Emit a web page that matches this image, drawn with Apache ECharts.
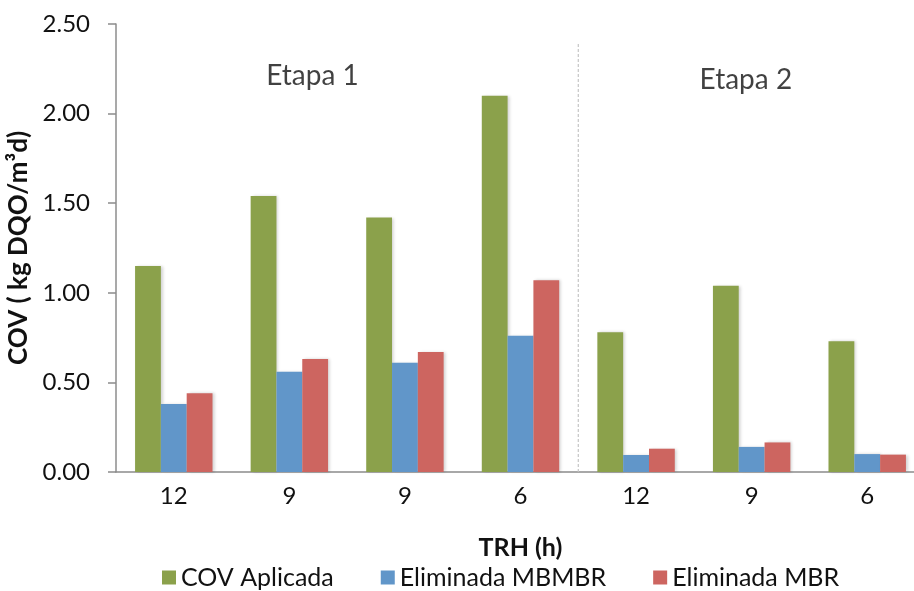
<!DOCTYPE html>
<html>
<head>
<meta charset="utf-8">
<script src="https://cdn.jsdelivr.net/npm/echarts@6/dist/echarts.min.js"></script>
<style>
  html, body { margin: 0; padding: 0; background: #fff; }
  #chart { width: 914px; height: 591px; }
</style>
</head>
<body>
<div id="chart"></div>
<script>
// values
var categories = ['12', '9', '9', '6', '12', '9', '6'];
var covAplicada = [1.15, 1.54, 1.42, 2.10, 0.78, 1.04, 0.73];
var elimMBMBR = [0.38, 0.56, 0.61, 0.76, 0.095, 0.14, 0.10];
var elimMBR = [0.44, 0.63, 0.67, 1.07, 0.13, 0.165, 0.097];
var yTicks = [0, 2.5, 0.5];   // min, max, step
var etapas = [['Etapa 1', 1.7, 2.21], ['Etapa 2', 5.45, 2.19]];
var divider = [[4, 0], [4, 2.39]];

var font = 'Lato, "Open Sans", sans-serif';
var axisGray = '#8c8c8c';

var chart = echarts.init(document.getElementById('chart'));

function bar(name, data, color) {
  return {
    name: name,
    type: 'bar',
    data: data,
    barGap: '0%',
    barCategoryGap: '33%',
    itemStyle: {
      color: color,
      shadowColor: 'rgba(0,0,0,0.18)',
      shadowBlur: 3,
      shadowOffsetX: 2
    }
  };
}

chart.setOption({
  animation: false,
  textStyle: { fontFamily: font },
  grid: { left: 116, top: 24, width: 809, bottom: 119, outerBoundsMode: 'none' },
  legend: {
    data: ['COV Aplicada', 'Eliminada MBMBR', 'Eliminada MBR'],
    left: 162,
    top: 565,
    padding: 0,
    itemWidth: 14,
    itemHeight: 14,
    itemGap: 47,
    icon: 'rect',
    textStyle: { fontFamily: font, fontSize: 25, color: '#111' }
  },
  xAxis: [{
    type: 'category',
    data: categories,
    name: 'TRH (h)',
    nameLocation: 'middle',
    nameGap: 63,
    nameTextStyle: { fontFamily: font, fontSize: 25, fontWeight: 'bold', color: '#111' },
    axisLine: { lineStyle: { color: axisGray, width: 1.5 } },
    axisTick: { length: 8, lineStyle: { color: axisGray, width: 1.5 } },
    axisLabel: { margin: 12, fontSize: 24, color: '#111' }
  }, {
    type: 'value',
    min: 0,
    max: 7,
    show: false
  }],
  yAxis: {
    type: 'value',
    min: yTicks[0],
    max: yTicks[1],
    interval: yTicks[2],
    name: 'COV ( kg DQO/m³d)',
    nameLocation: 'middle',
    nameRotate: 90,
    nameGap: 69,
    nameTextStyle: { fontFamily: font, fontSize: 26, fontWeight: 'bold', color: '#111' },
    axisLine: { show: true, lineStyle: { color: axisGray, width: 1.5 } },
    axisTick: { show: true, length: 8, lineStyle: { color: axisGray, width: 1.5 } },
    axisLabel: {
      margin: 26,
      fontSize: 24,
      color: '#111',
      formatter: function (v) { return v.toFixed(2); }
    },
    splitLine: { show: false }
  },
  series: [
    bar('COV Aplicada', covAplicada, '#8BA14B'),
    bar('Eliminada MBMBR', elimMBMBR, '#6196C9'),
    bar('Eliminada MBR', elimMBR, '#CD6560'),
    {
      name: 'divider',
      type: 'line',
      xAxisIndex: 1,
      data: divider,
      symbol: 'none',
      silent: true,
      lineStyle: { color: '#c4c4c4', type: [3, 2], width: 1.2 }
    },
    {
      name: 'etapas',
      type: 'scatter',
      xAxisIndex: 1,
      symbolSize: 0,
      silent: true,
      data: etapas.map(function (e) { return { value: [e[1], e[2]], name: e[0] }; }),
      label: {
        show: true,
        position: 'inside',
        formatter: function (p) { return p.name; },
        fontFamily: font,
        fontSize: 28,
        color: '#111'
      }
    }
  ]
});
</script>
</body>
</html>
